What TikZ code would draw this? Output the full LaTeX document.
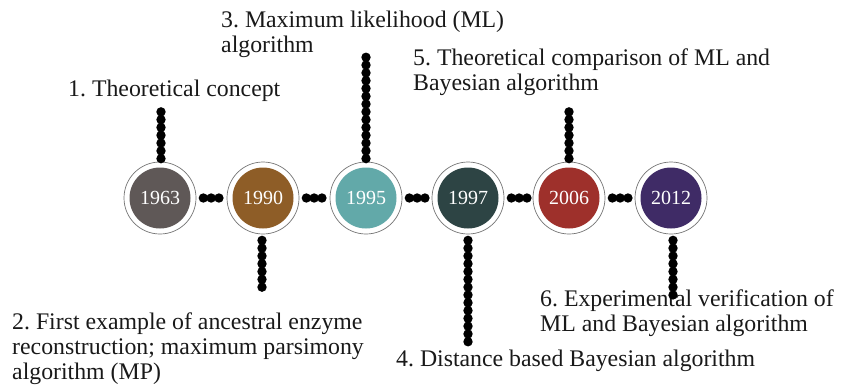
\documentclass[tikz,border=0pt]{standalone}
\usepackage{fontspec}
\setmainfont{Liberation Serif}
\frenchspacing
\definecolor{cA}{HTML}{5F5857}
\definecolor{cB}{HTML}{8E5D27}
\definecolor{cC}{HTML}{62A9A9}
\definecolor{cD}{HTML}{2D4444}
\definecolor{cE}{HTML}{9E302B}
\definecolor{cF}{HTML}{3F2B66}
\tikzset{
  ring/.style={circle, draw=black!55, line width=0.7pt, fill=white, minimum size=72pt, inner sep=0pt,
    path picture={\fill[#1] (path picture bounding box.center) circle (30.5pt);}},
  year/.style={text=white, font=\fontsize{20pt}{22pt}\selectfont},
  dotchain/.style={line width=9.4pt, line cap=round, dash pattern=on 0pt off 7.8pt, black},
  lbl/.style={anchor=base west, inner sep=0pt, align=left, font=\fontsize{23.8pt}{25pt}\selectfont\frenchspacing, text=black!90}
}
\begin{document}
\begin{tikzpicture}[x=1pt,y=-1pt]
\useasboundingbox (0,0) rectangle (842,389);
\node[ring=cA] (c1) at (160,198) {};
\node[ring=cB] (c2) at (263,198) {};
\node[ring=cC] (c3) at (366,198) {};
\node[ring=cD] (c4) at (468,198) {};
\node[ring=cE] (c5) at (569,198) {};
\node[ring=cF] (c6) at (671,198) {};
\foreach \n/\y in {c1/1963,c2/1990,c3/1995,c4/1997,c5/2006,c6/2012}
  \node[year] (y\n) at (\n) {\y};
% horizontal dot chains
\foreach \a/\b in {c1/c2,c2/c3,c3/c4,c4/c5,c5/c6}
  \draw[dotchain] ([xshift=7pt]\a.east) -- ([xshift=-4pt]\b.west);
% labels (base = baseline of last line)
\node[lbl] (l1) at (68,96) {1. Theoretical concept};
\node[lbl] (l3) at (221,52) {3. Maximum likelihood (ML)\\algorithm};
\node[lbl] (l5) at (413,90) {5. Theoretical comparison of ML and\\Bayesian algorithm};
\node[lbl] (l2) at (12,379) {2. First example of ancestral enzyme\\reconstruction; maximum parsimony\\algorithm (MP)};
\node[lbl] (l4) at (396,366) {4. Distance based Bayesian algorithm};
\node[lbl] (l6) at (540,331) {6. Experimental verification of\\ML and Bayesian algorithm};
% vertical chain ends
\coordinate (e1) at (161,105);
\coordinate (e2) at (262,293);
\coordinate (e3) at (366,53);
\coordinate (e4) at (468,342);
\coordinate (e5) at (569,105);
\coordinate (e6) at (673,295);
\draw[dotchain] ([shift={(1pt,3pt)}]c1.north) -- (e1);
\draw[dotchain] ([shift={(-1pt,-6pt)}]c2.south) -- (e2);
\draw[dotchain] ([yshift=3pt]c3.north) -- (e3);
\draw[dotchain] ([yshift=-6pt]c4.south) -- (e4);
\draw[dotchain] ([yshift=3pt]c5.north) -- (e5);
\draw[dotchain] ([shift={(2pt,-6pt)}]c6.south) -- (e6);
\end{tikzpicture}
\end{document}
